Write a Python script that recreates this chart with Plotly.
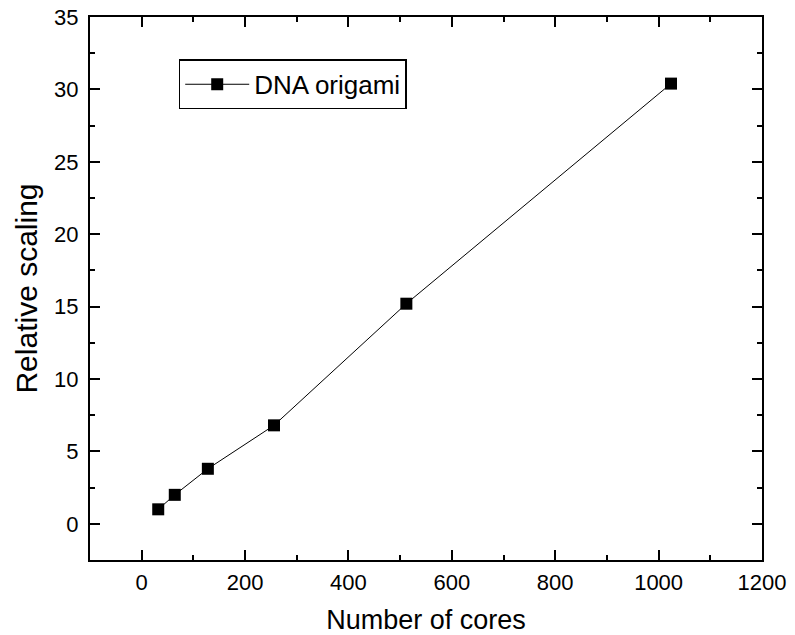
import plotly.graph_objects as go

cores = [32, 64, 128, 256, 512, 1024]
scaling = [1.0, 2.0, 3.8, 6.8, 15.2, 30.4]
series_name = "DNA origami"

FONT = "Arial, Liberation Sans, sans-serif"

fig = go.Figure()
fig.add_trace(go.Scatter(
    x=cores, y=scaling, mode="lines+markers", name=series_name,
    line=dict(color="black", width=1),
    marker=dict(symbol="square", size=12, color="black"),
))

axis_common = dict(
    showline=True, linecolor="black", linewidth=2, mirror="allticks",
    ticks="inside", ticklen=10, tickwidth=1.5, tickcolor="black",
    showgrid=False, zeroline=False, automargin=False,
    ticklabeloverflow="allow",
    tickfont=dict(family=FONT, size=22, color="black"),
)

fig.update_xaxes(
    range=[-100, 1200], dtick=200, tick0=0,
    title=dict(text="Number of cores", font=dict(family=FONT, size=27, color="black"), standoff=16),
    minor=dict(ticks="inside", ticklen=5, dtick=100, tickcolor="black", tickwidth=1.5),
    ticklabelstandoff=2,
    **axis_common,
)
fig.update_yaxes(
    range=[-2.5, 35], dtick=5, tick0=0,
    title=dict(text="Relative scaling", font=dict(family=FONT, size=30, color="black"), standoff=8),
    minor=dict(ticks="inside", ticklen=5, dtick=2.5, tickcolor="black", tickwidth=1.5),
    ticklabelstandoff=5,
    **axis_common,
)

fig.update_layout(
    width=795, height=635,
    margin=dict(l=90, r=33, t=17, b=75),
    paper_bgcolor="white", plot_bgcolor="white",
    showlegend=True,
    legend=dict(
        x=0.132, y=0.922, xanchor="left", yanchor="top",
        bordercolor="black", borderwidth=1.5, bgcolor="white",
        itemwidth=64,
        font=dict(family=FONT, size=26, color="black"),
    ),
)

# remove the default 8px page margin so the figure sits at the window's corner
fig.write_html(
    "out.html",
    config={"displayModeBar": False},
    post_script="document.body.style.margin='0px';",
)
